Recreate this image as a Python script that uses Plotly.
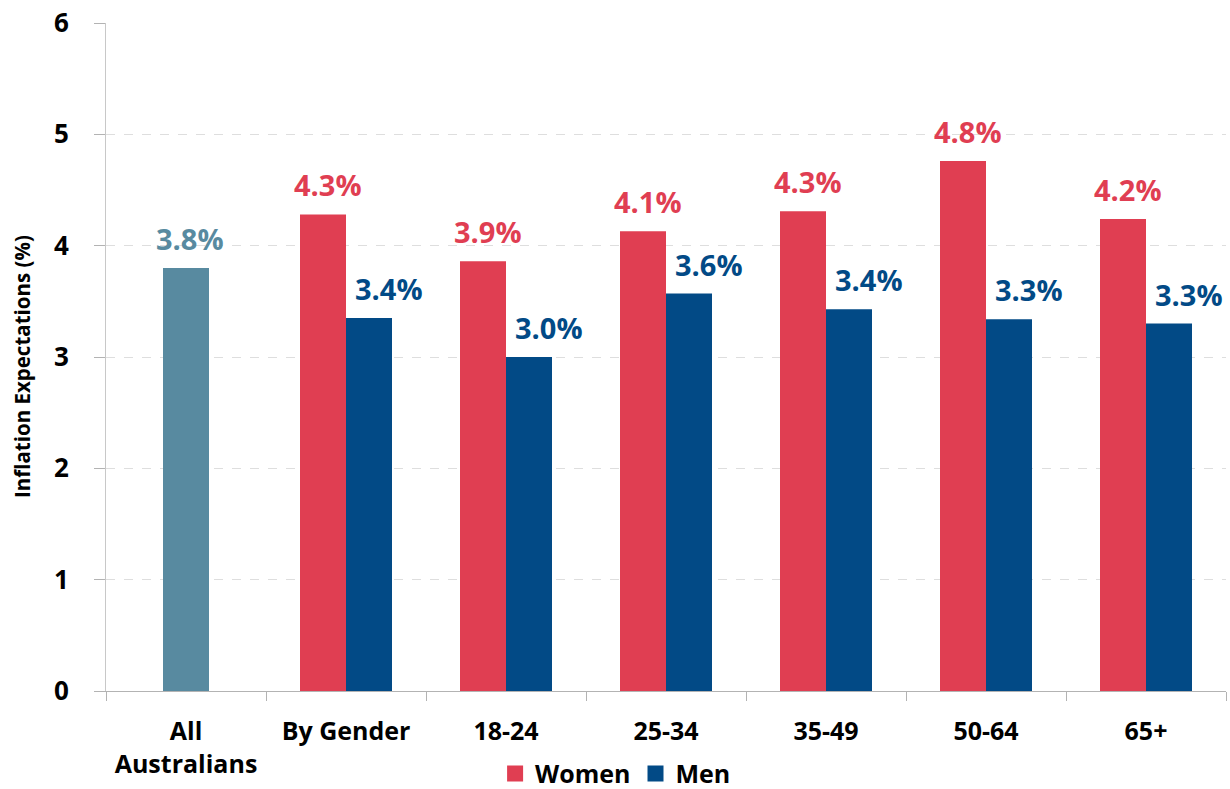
import plotly.graph_objects as go

categories = ["All<br>Australians", "By Gender", "18-24", "25-34", "35-49", "50-64", "65+"]
all_value = [3.80, None, None, None, None, None, None]
women = [None, 4.28, 3.86, 4.13, 4.31, 4.76, 4.24]
men = [None, 3.35, 3.00, 3.57, 3.43, 3.34, 3.30]
all_labels = ["3.8%", "", "", "", "", "", ""]
women_labels = ["", "4.3%", "3.9%", "4.1%", "4.3%", "4.8%", "4.2%"]
men_labels = ["", "3.4%", "3.0%", "3.6%", "3.4%", "3.3%", "3.3%"]
y_ticks = [0, 1, 2, 3, 4, 5, 6]

C_ALL = "#588AA0"
C_W = "#E03E52"
C_M = "#024A86"
FONT = "Open Sans"
BW = 0.2875

fig = go.Figure()
fig.add_trace(go.Bar(x=categories, y=all_value, marker_color=C_ALL, width=BW, offset=-BW / 2,
                     showlegend=False, marker_line_width=0))
fig.add_trace(go.Bar(x=categories, y=women, marker_color=C_W, width=BW, offset=-BW,
                     showlegend=False, marker_line_width=0))
fig.add_trace(go.Bar(x=categories, y=men, marker_color=C_M, width=BW, offset=0,
                     showlegend=False, marker_line_width=0))
# legend entries
fig.add_trace(go.Scatter(x=[None], y=[None], mode="markers", name="Women",
                         marker=dict(symbol="square", size=16, color=C_W)))
fig.add_trace(go.Scatter(x=[None], y=[None], mode="markers", name="Men",
                         marker=dict(symbol="square", size=16, color=C_M)))

annotations = []
for vals, labels, color, shift in [(all_value, all_labels, C_ALL, 4),
                                   (women, women_labels, C_W, -18),
                                   (men, men_labels, C_M, 43)]:
    for c, v, t in zip(categories, vals, labels):
        if v is None:
            continue
        annotations.append(dict(x=c, y=v, text=t, showarrow=False, xshift=shift, yshift=8,
                                yanchor="bottom", xanchor="center",
                                font=dict(family=FONT, size=29, color=color, weight="bold")))

annotations.append(dict(text="Inflation Expectations (%)", textangle=-90, showarrow=False,
                        xref="paper", yref="paper", x=-0.075, y=0.485,
                        xanchor="center", yanchor="middle",
                        font=dict(family=FONT, size=20.5, color="#000000", weight="bold")))

fig.update_layout(
    width=1230, height=789,
    margin=dict(l=106, r=4, t=23, b=98, autoexpand=False),
    plot_bgcolor="white", paper_bgcolor="white",
    barmode="overlay",
    annotations=annotations,
    legend=dict(orientation="h", x=0.455, xanchor="center", y=-0.124, yanchor="middle",
                font=dict(family=FONT, size=25, color="#000000", weight="bold"),
                itemwidth=30, tracegroupgap=0),
)
fig.update_xaxes(type="category", range=[-0.5, 6.5], tickson="boundaries", ticks="outside",
                 ticklen=9, tickcolor="#b3b3b3", showline=True, linecolor="#b3b3b3", linewidth=1,
                 showgrid=False, automargin=False, ticklabelstandoff=18,
                 tickfont=dict(family=FONT, size=25, color="#000000", weight="bold"))
fig.update_yaxes(range=[0, 6], tickvals=y_ticks, ticks="outside", ticklen=11, tickcolor="#b3b3b3",
                 showline=True, linecolor="#c8c8c8", linewidth=1, zeroline=False,
                 showgrid=True, gridcolor="#dedede", griddash="dash", gridwidth=1,
                 ticklabelstandoff=20, automargin=False,
                 tickfont=dict(family=FONT, size=26, color="#000000", weight="bold"))

fig.write_html("out.html")
